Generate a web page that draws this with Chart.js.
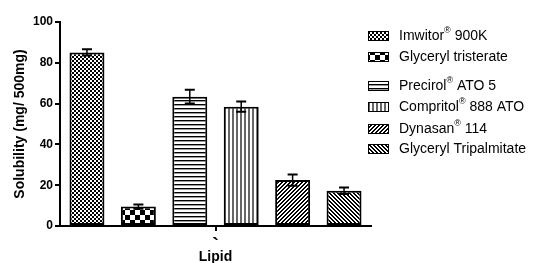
<!DOCTYPE html>
<html>
<head>
<meta charset="utf-8">
<script src="https://cdn.jsdelivr.net/npm/chart.js@4.4.1/dist/chart.umd.min.js"></script>
<style>
  body { margin: 0; background: #fff; }
  #wrap { width: 533px; height: 263px; }
</style>
</head>
<body>
<div id="wrap"><canvas id="chart1"></canvas></div>
<script>
var categories = ['Lipid']
var lipidNames = ['Imwitor® 900K', 'Glyceryl tristerate', 'Precirol® ATO 5', 'Compritol® 888 ATO', 'Dynasan® 114', 'Glyceryl Tripalmitate']
var solubility = [85.1, 9.5, 63.4, 58.5, 22.5, 17.3]
var solubilityErr = [1.5, 1.0, 3.4, 2.5, 2.8, 1.6]
var yTicks = [0, 20, 40, 60, 80, 100]

var FONT = '"Liberation Sans", Arial, sans-serif'

// little tiles used as bar fills
function makePattern(kind) {
    var c = document.createElement('canvas')
    var x = c.getContext('2d')
    var n = 4
    if (kind == 'check') n = 10
    c.width = n; c.height = n
    x.fillStyle = '#fff'
    x.fillRect(0, 0, n, n)
    x.fillStyle = '#000'
    if (kind == 'fine') {
        x.fillRect(0, 0, 2, 2); x.fillRect(2, 2, 2, 2)
    } else if (kind == 'check') {
        x.fillRect(0, 0, 5, 5); x.fillRect(5, 5, 5, 5)
    } else if (kind == 'hlines') {
        x.fillRect(0, 0, 4, 1)
        x.fillStyle = '#999'
        x.fillRect(0, 1, 4, 1)
    } else if (kind == 'vlines') {
        x.fillStyle = '#666'
        x.fillRect(0, 0, 2, 4)
    } else if (kind == 'up') {
        for (var r = 0; r < 4; r++) {
            x.fillRect((3 - r + 4) % 4, r, 1, 1)
            x.fillRect((4 - r + 4) % 4, r, 1, 1)
        }
    } else if (kind == 'down') {
        for (var r = 0; r < 4; r++) {
            x.fillRect(r % 4, r, 1, 1)
            x.fillRect((r + 1) % 4, r, 1, 1)
        }
    }
    return x.createPattern(c, 'repeat')
}

var fills = ['fine', 'check', 'hlines', 'vlines', 'up', 'down'].map(makePattern)
var legendRows = [36, 57, 86, 107, 129, 149]

var errorBars = {
    id: 'errorBars',
    afterDatasetsDraw: function (chart) {
        var ctx = chart.ctx
        var y = chart.scales.y
        ctx.save()
        ctx.strokeStyle = '#000'
        chart.data.datasets.forEach(function (ds, i) {
            var bar = chart.getDatasetMeta(i).data[0]
            var v = ds.data[0], e = solubilityErr[i]
            var hi = y.getPixelForValue(v + e), lo = y.getPixelForValue(v - e)
            ctx.lineWidth = 1.5
            ctx.beginPath()
            ctx.moveTo(bar.x, hi); ctx.lineTo(bar.x, lo)
            ctx.stroke()
            ctx.lineWidth = 2
            ctx.beginPath()
            ctx.moveTo(bar.x - 5, hi); ctx.lineTo(bar.x + 5, hi)
            ctx.moveTo(bar.x - 5, lo); ctx.lineTo(bar.x + 5, lo)
            ctx.stroke()
        })
        ctx.restore()
    }
}

var sideLegend = {
    id: 'sideLegend',
    afterDraw: function (chart) {
        var ctx = chart.ctx
        ctx.save()
        chart.data.datasets.forEach(function (ds, i) {
            var yc = legendRows[i]
            ctx.fillStyle = ds.backgroundColor
            ctx.fillRect(368, yc - 5, 21, 10)
            ctx.strokeStyle = '#000'
            ctx.lineWidth = 1
            ctx.strokeRect(368.5, yc - 4.5, 20, 9)
            ctx.fillStyle = '#000'
            ctx.textBaseline = 'middle'
            var parts = ds.label.split('®')
            var tx = 399
            ctx.font = '14px ' + FONT
            ctx.fillText(parts[0], tx, yc)
            tx += ctx.measureText(parts[0]).width
            if (parts.length > 1) {
                ctx.font = '9px ' + FONT
                ctx.fillText('®', tx, yc - 5)
                tx += ctx.measureText('®').width
                ctx.font = '14px ' + FONT
                ctx.fillText(parts[1], tx, yc)
            }
        })
        ctx.restore()
    }
}

var chart1 = new Chart(
    document.getElementById('chart1'),
    {
        type: 'bar',
        data: {
            labels: categories,
            datasets: lipidNames.map(function (name, i) {
                return {
                    label: name,
                    data: [solubility[i]],
                    backgroundColor: fills[i],
                    borderColor: '#000',
                    borderWidth: 2,
                    borderSkipped: false,
                    categoryPercentage: 0.992,
                    barPercentage: 0.68
                }
            })
        },
        options: {
            responsive: true,
            maintainAspectRatio: false,
            animation: false,
            layout: { padding: { top: 22, right: 162, left: 0, bottom: 0 } },
            plugins: { legend: { display: false }, tooltip: { enabled: false } },
            scales: {
                x: {
                    afterFit: function (s) { s.height = 37 },
                    grid: { drawOnChartArea: false, offset: false, tickLength: 5, color: '#000', lineWidth: 2 },
                    border: { color: '#000', width: 2 },
                    ticks: {
                        color: '#000', padding: 3,
                        font: { family: FONT, size: 20, weight: 'bold' },
                        callback: function () { return '`' }
                    },
                    title: {
                        display: true, text: categories[0], color: '#000',
                        font: { family: FONT, size: 14, weight: 'bold' },
                        padding: { top: 0, bottom: -3 }
                    }
                },
                y: {
                    min: yTicks[0], max: yTicks[yTicks.length - 1],
                    afterFit: function (s) { s.width = 60 },
                    afterBuildTicks: function (s) { s.ticks = yTicks.map(function (v) { return { value: v } }) },
                    grid: { drawOnChartArea: false, tickLength: 5, color: '#000', lineWidth: 2 },
                    border: { color: '#000', width: 2 },
                    ticks: {
                        color: '#000', padding: 2,
                        font: { family: FONT, size: 12, weight: 'bold' }
                    },
                    title: {
                        display: true, text: 'Solubility (mg/ 500mg)', color: '#000',
                        font: { family: FONT, size: 14, weight: 'bold' },
                        padding: { top: 12, bottom: 0 }
                    }
                }
            }
        },
        plugins: [errorBars, sideLegend]
    }
);
</script>
</body>
</html>
